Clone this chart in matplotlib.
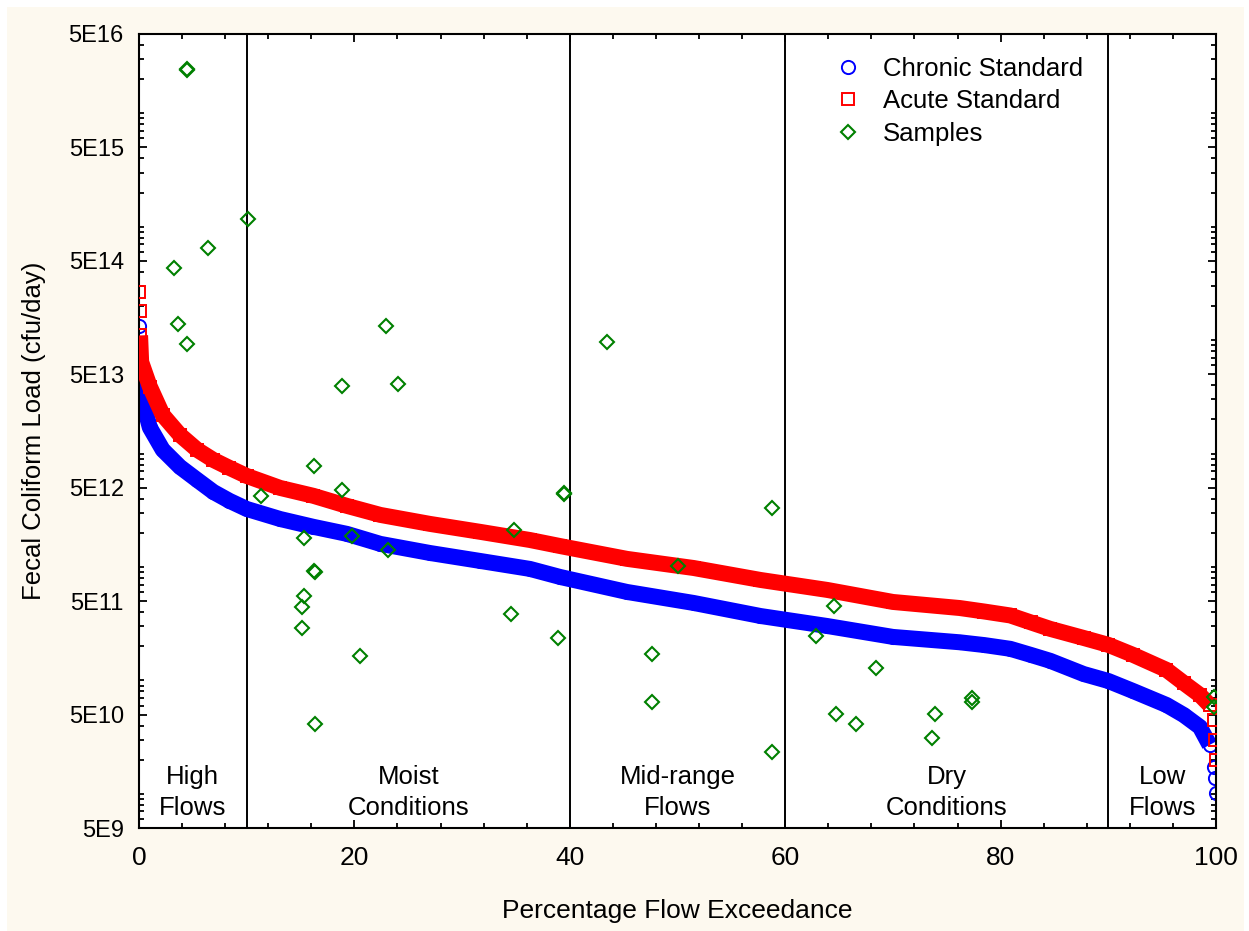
import numpy as np
import matplotlib.pyplot as plt
from matplotlib.patches import Rectangle
from matplotlib.ticker import FixedLocator, FixedFormatter, LogLocator, MultipleLocator, NullFormatter
import matplotlib.transforms as mtransforms

plt.rcParams['font.family'] = ['Liberation Sans', 'DejaVu Sans']

# load duration curves (percent of time flow exceeded, cfu/day)
chronic_pct = [0.03, 0.1, 0.2, 1.0, 2.2, 3.8, 5.4, 6.9, 8.4, 10.0, 13.1, 16.2, 19.3,
               22.4, 27.0, 31.7, 36.3, 39.1, 45.3, 51.5, 57.7, 63.9, 70.0, 76.2, 78.5,
               80.9, 82.8, 84.6, 87.7, 90.0, 92.3, 95.4, 97.0, 98.5, 99.4, 99.8, 99.9,
               100.0]
chronic_load = [1.34e14, 5.5e13, 3.29e13, 1.7e13, 1.08e13, 7.63e12, 5.86e12, 4.59e12,
                3.83e12, 3.25e12, 2.65e12, 2.26e12, 1.96e12, 1.60e12, 1.33e12, 1.13e12,
                9.62e11, 8.17e11, 6.03e11, 4.82e11, 3.70e11, 3.02e11, 2.42e11, 2.17e11,
                2.05e11, 1.90e11, 1.68e11, 1.49e11, 1.14e11, 9.89e10, 8.07e10, 6.08e10,
                4.96e10, 3.89e10, 2.70e10, 1.73e10, 1.38e10, 1.02e10]

acute_pct = [0.03, 0.06, 0.1, 0.2, 1.0, 2.2, 3.8, 5.4, 6.9, 8.4, 10.0, 13.1, 16.2, 19.3,
             22.4, 27.0, 31.7, 36.3, 39.1, 45.3, 51.5, 57.7, 63.9, 70.0, 76.2, 78.5,
             80.9, 82.8, 84.6, 87.7, 90.0, 92.3, 95.4, 97.0, 98.5, 99.4, 99.8, 99.9,
             100.0]
acute_load = [2.67e14, 1.81e14, 1.1e14, 6.43e13, 3.9e13, 2.19e13, 1.46e13, 1.08e13,
              8.79e12, 7.48e12, 6.35e12, 4.98e12, 4.24e12, 3.46e12, 2.88e12, 2.40e12,
              2.04e12, 1.73e12, 1.53e12, 1.18e12, 9.8e11, 7.69e11, 6.28e11, 4.92e11,
              4.35e11, 4.05e11, 3.74e11, 3.25e11, 2.85e11, 2.37e11, 2.06e11, 1.68e11,
              1.24e11, 9.5e10, 7.45e10, 6.08e10, 4.48e10, 2.99e10, 1.99e10]

# observed samples
sample_pct = [4.43, 4.50, 10.15, 6.43, 3.28, 3.65, 4.43, 22.93, 18.88, 24.08, 16.28,
              11.30, 18.88, 39.49, 39.45, 34.85, 15.35, 19.81, 23.15, 16.28, 16.30,
              15.35, 15.16, 15.16, 34.51, 38.93, 20.55, 16.34, 43.43, 58.80, 50.07,
              64.53, 62.86, 47.66, 68.46, 47.66, 77.37, 77.37, 64.75, 73.88, 66.60,
              73.66, 58.80, 99.8, 99.8]
sample_load = [2.45e16, 2.40e16, 1.17e15, 6.51e14, 4.34e14, 1.39e14, 9.27e13, 1.34e14,
               3.95e13, 4.11e13, 7.79e12, 4.24e12, 4.78e12, 4.50e12, 4.40e12, 2.12e12,
               1.80e12, 1.88e12, 1.41e12, 9.23e11, 9.0e11, 5.56e11, 4.45e11, 2.90e11,
               3.86e11, 2.37e11, 1.64e11, 4.13e10, 9.66e13, 3.32e12, 1.02e12, 4.54e11,
               2.47e11, 1.71e11, 1.29e11, 6.46e10, 7.00e10, 6.46e10, 5.06e10, 5.06e10,
               4.13e10, 3.11e10, 2.34e10, 7.15e10, 5.83e10]

zone_bounds = [10, 40, 60, 90]
zone_centers = [5, 25, 50, 75, 95]
zone_names = ['High\nFlows', 'Moist\nConditions', 'Mid-range\nFlows', 'Dry\nConditions', 'Low\nFlows']

ytick_vals = [5e9, 5e10, 5e11, 5e12, 5e13, 5e14, 5e15, 5e16]
ytick_labels = ['5E9', '5E10', '5E11', '5E12', '5E13', '5E14', '5E15', '5E16']

fig = plt.figure(figsize=(12.49, 9.31), dpi=100)
fig.add_artist(Rectangle((7 / 1249, 0), 1237 / 1249, 924 / 931, transform=fig.transFigure,
                         facecolor='#fdf9ef', edgecolor='none', zorder=-10))
ax = fig.add_axes([0.1113, 0.1106, 0.8623, 0.8529])

for xb in zone_bounds:
    ax.axvline(xb, color='black', lw=1.4, zorder=1)

# dense curves drawn as a thick band, isolated end points as open markers
cx, cy = np.array(chronic_pct), np.array(chronic_load)
band = (cx >= 0.1) & (cx <= 99.4)
ax.plot(cx[band], cy[band], color='blue', lw=11.5, solid_joinstyle='round',
        solid_capstyle='butt', zorder=2)
ax.plot(cx, cy, ls='none', marker='o', ms=9.5, mfc='none', mec='blue', mew=1.4,
        zorder=2, label='Chronic Standard')

ax_, ay_ = np.array(acute_pct), np.array(acute_load)
band = (ax_ >= 0.1) & (ax_ <= 99.4)
ax.plot(ax_[band], ay_[band], color='red', lw=11.5, solid_joinstyle='round',
        solid_capstyle='butt', zorder=3)
ax.plot(ax_, ay_, ls='none', marker='s', ms=9, mfc='none', mec='red', mew=1.4,
        zorder=3, label='Acute Standard')

ax.plot(sample_pct, sample_load, ls='none', marker='D', ms=6.8, mfc='none', mec='#008000',
        mew=1.5, zorder=4, label='Samples')

trans = mtransforms.blended_transform_factory(ax.transData, ax.transAxes)
for xc, name in zip(zone_centers, zone_names):
    ax.text(xc, 0.0105, name, transform=trans, ha='center', va='bottom', fontsize=18.5,
            linespacing=1.36)

ax.set_xlim(0, 100)
ax.set_yscale('log')
ax.set_ylim(5e9, 5e16)
ax.yaxis.set_major_locator(FixedLocator(ytick_vals))
ax.yaxis.set_major_formatter(FixedFormatter(ytick_labels))
ax.yaxis.set_minor_locator(LogLocator(base=10, subs=(1, 2, 3, 4, 6, 7, 8, 9), numticks=60))
ax.yaxis.set_minor_formatter(NullFormatter())
ax.xaxis.set_major_locator(MultipleLocator(20))
ax.xaxis.set_minor_locator(MultipleLocator(4))

ax.tick_params(which='both', direction='in', top=True, right=True, width=1.3)
ax.tick_params(which='major', length=6)
ax.tick_params(which='minor', length=3.5)
ax.tick_params(axis='x', which='major', labelsize=19, pad=13)
ax.tick_params(axis='y', which='major', labelsize=17, pad=11)
for s in ax.spines.values():
    s.set_linewidth(1.5)

ax.set_xlabel('Percentage Flow Exceedance', fontsize=19, labelpad=21)
ax.set_ylabel('Fecal Coliform Load (cfu/day)', fontsize=18.5, labelpad=16)

ax.legend(loc='upper left', bbox_to_anchor=(0.6467, 0.971), frameon=False, fontsize=18.5,
          handlelength=1.0, handletextpad=0.85, labelspacing=0.33, borderpad=0,
          borderaxespad=0)

fig.savefig('out.png', dpi=100)
